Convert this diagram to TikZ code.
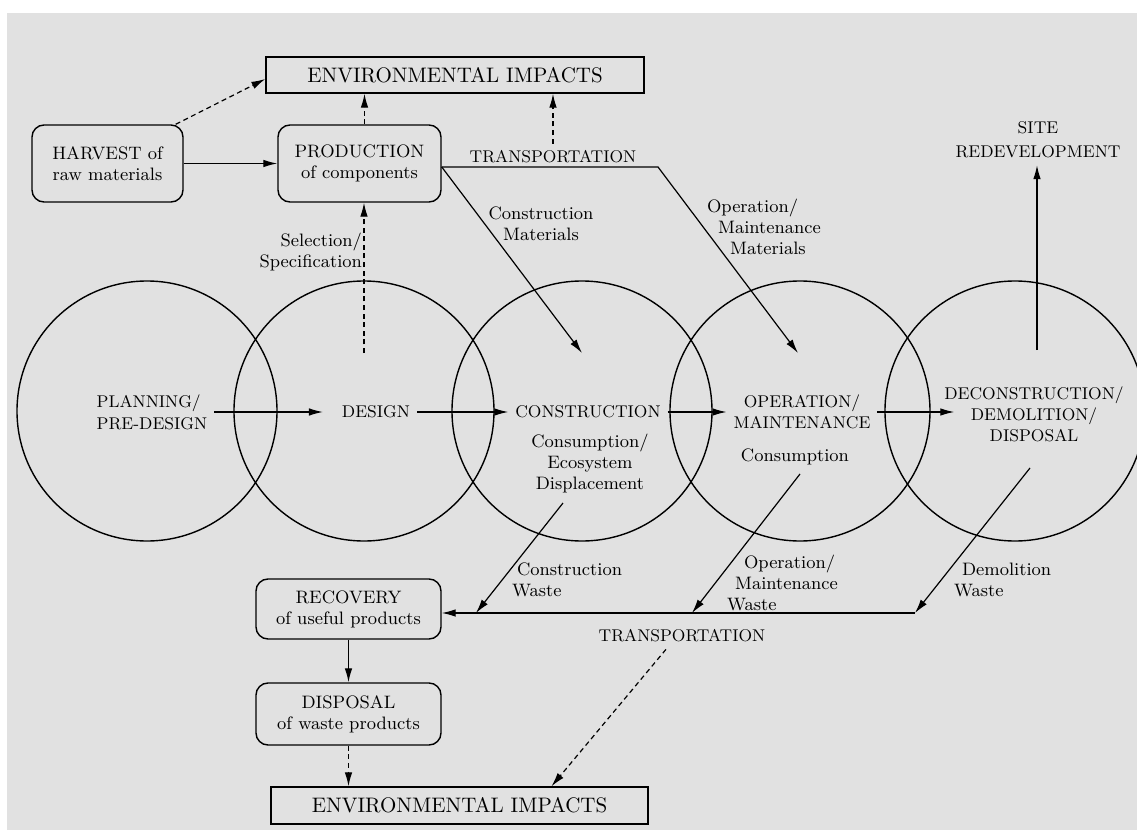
\documentclass[tikz,border=0pt]{standalone}
\usepackage{tikz}
\usetikzlibrary{arrows.meta, positioning}
\definecolor{paper}{RGB}{225,225,225}
\newcommand{\stagefont}{\fontsize{8.5}{10.5}\selectfont}
\newcommand{\notefont}{\fontsize{9}{10.5}\selectfont}

\begin{document}
\begin{tikzpicture}[x=0.5pt, y=-0.5pt,
  stage/.style={draw, circle, minimum size=130pt, line width=0.7pt},
  box/.style={draw, rounded corners=6pt, line width=0.7pt, minimum width=75.5pt, minimum height=38.5pt, align=center, font=\notefont},
  impactbox/.style={draw, line width=0.7pt, minimum width=189pt, minimum height=18pt, font=\fontsize{10.5}{12}\selectfont},
  stagetext/.style={align=center, font=\stagefont},
  note/.style={align=center, font=\notefont},
  flow/.style={-{Latex[length=7pt,width=3.8pt]}, line width=0.6pt},
  impact/.style={flow, dash pattern=on 2.5pt off 1.8pt}]
\useasboundingbox (0,0) rectangle (1137,830);
\fill[paper] (7,13) rectangle (1137,830);

% upstream boxes
\node[impactbox] (envtop) at (455,75) {ENVIRONMENTAL IMPACTS};
\node[box] (harvest) at (107.5,163.5) {HARVEST of\\raw materials};
\node[box, minimum width=81.5pt] (production) at (359.5,163.5) {PRODUCTION\\of components};
\node[stagetext] (tranup) at (553,157) {TRANSPORTATION};
\node[stagetext, font=\fontsize{8.5}{12}\selectfont] (site) at (1038,140) {SITE\\REDEVELOPMENT};

% life cycle stages
\foreach \name/\cx in {plan/147, design/364, build/582, operate/800, demolish/1015}
  \node[stage] (\name) at (\cx,411) {};
\node[stagetext, align=left, font=\fontsize{8.5}{11}\selectfont] (plantxt) at (152,412) {PLANNING/\\PRE-DESIGN};
\node[stagetext] (designtxt) at (376,412) {DESIGN};
\node[stagetext] (buildtxt) at (588,412) {CONSTRUCTION};
\node[note] (buildsub) at (590,463) {Consumption/\\Ecosystem\\Displacement};
\node[stagetext] (operatetxt) at (802,412) {OPERATION/\\MAINTENANCE};
\node[note] (operatesub) at (795,457) {Consumption};
\node[stagetext] (demolishtxt) at (1034,414) {DECONSTRUCTION/\\DEMOLITION/\\DISPOSAL};

\draw[flow] (plantxt) -- ([xshift=-6pt]designtxt.west);
\draw[flow] (designtxt) -- (buildtxt);
\draw[flow] (buildtxt) -- (operatetxt);
\draw[flow] (operatetxt) -- ([xshift=8.5pt]demolishtxt.west |- operatetxt);

% materials in
\draw[flow] (harvest) -- (production);
\draw[impact] ([xshift=-4pt]harvest.north east) -- ([yshift=-2pt]envtop.west);
\draw[impact] ([xshift=2.5pt]production.north) -- ([xshift=2.5pt]production.north |- envtop.south);
\draw[impact] (tranup.north) -- (tranup.north |- envtop.south);
\coordinate (selfoot) at (364,353);
\draw[impact] (selfoot) -- (selfoot |- production.south);
\node[note, align=right, anchor=east] (select) at (369,252) {Selection/\\Specification};

\coordinate (bend) at (658,167);
\coordinate (buildin) at (582,353);
\coordinate (operatein) at (798,353);
\draw[flow] ([yshift=-1.7pt]production.east) -- (bend) -- (operatein);
\draw[flow] ([yshift=-1.7pt]production.east) -- (buildin);
\node[note] (buildmat) at (541,224) {Construction\\Materials};
\node[note, align=left, anchor=north west] (operatemat) at (700,192) {Operation/\\\hspace*{5.5pt}Maintenance\\\hspace*{11.5pt}Materials};

\coordinate (demolishup) at (1037,350);
\draw[flow] (demolishup) -- (demolishup |- site.south);

% waste out
\node[box, minimum width=92.5pt, minimum height=30pt] (recovery) at (348.5,609) {RECOVERY\\of useful products};
\node[box, minimum width=92.5pt, minimum height=31pt] (disposal) at (348.5,714) {DISPOSAL\\of waste products};
\node[impactbox, minimum width=188.5pt, minimum height=18.5pt] (envbottom) at (459.5,805.5) {ENVIRONMENTAL IMPACTS};
\node[stagetext] (trandown) at (682,636) {TRANSPORTATION};

\coordinate (buildout) at (563,503);
\coordinate (buildtip) at (476,613);
\coordinate (operateout) at (800,474);
\coordinate (operatetip) at (692,613);
\coordinate (demolishout) at (1030,468);
\coordinate (demolishtip) at (915,613);
\draw[flow] (buildout) -- (buildtip);
\draw[flow] (operateout) -- (operatetip);
\draw[flow] (demolishout) -- (demolishtip);
\draw[flow] (demolishtip) -- (demolishtip -| recovery.east);
\node[note, align=left, anchor=north west] (buildwaste) at (505,556) {\hspace*{2.5pt}Construction\\Waste};
\node[note, align=left, anchor=north west] (operatewaste) at (720,548) {\hspace*{8.5pt}Operation/\\\hspace*{4pt}Maintenance\\Waste};
\node[note, align=left, anchor=north west] (demolishwaste) at (947,556) {\hspace*{4pt}Demolition\\Waste};

\draw[flow] (recovery) -- (disposal);
\draw[impact] (disposal) -- (disposal |- envbottom.north);
\draw[impact] ([xshift=-8pt]trandown.south) -- ([xshift=46pt]envbottom.north);
\end{tikzpicture}
\end{document}
